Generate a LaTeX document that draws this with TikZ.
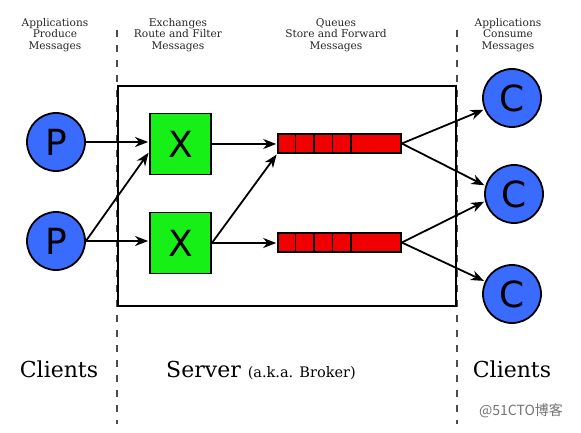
\documentclass[tikz,border=0pt]{standalone}
\usepackage{fontspec}
\setmainfont{DejaVu Serif}
\newfontfamily\lettersf{DejaVu Sans}
\newfontfamily\cjk{Noto Sans CJK SC}
\usetikzlibrary{arrows.meta,calc}
\definecolor{pblue}{HTML}{3A6BFF}
\definecolor{xgreen}{HTML}{16F016}
\definecolor{qred}{HTML}{F00000}
\tikzset{
  client/.style={circle,draw=black,line width=1.8pt,fill=pblue,minimum size=58pt,inner sep=0pt,
    font=\lettersf\fontsize{36}{36}\selectfont},
  xbox/.style={rectangle,draw=black,line width=1.8pt,fill=xgreen,minimum size=61pt,inner sep=0pt,
    font=\lettersf\fontsize{36}{36}\selectfont},
  queue/.style={rectangle,draw=black,line width=1.6pt,fill=qred,minimum width=123pt,minimum height=19pt,inner sep=0pt},
  cell/.style={black,line width=1.4pt},
  flow/.style={-{Stealth[length=13pt,width=10pt,inset=4pt]},line width=1.8pt,shorten >=1pt},
  sep/.style={line width=1.4pt,black!70,dash pattern=on 7pt off 8pt},
  toplabel/.style={align=center,text=black!85,font=\fontsize{10.6}{11.5}\selectfont},
  biglabel/.style={anchor=base,font=\fontsize{22}{26}\selectfont},
}
\begin{document}
\begin{tikzpicture}[x=1pt,y=-1pt]
\useasboundingbox (0,0) rectangle (581,433);
% separators
\draw[sep] (117,30) -- (117,424);
\draw[sep] (457,30) -- (457,424);
% server box
\node[draw=black,line width=1.8pt,minimum width=338pt,minimum height=220pt,inner sep=0pt] (server) at (287,196) {};
% top labels
\node[toplabel] (lp) at (55,35) {Applications\\Produce\\Messages};
\node[toplabel] (lx) at (178,35) {Exchanges\\Route and Filter\\Messages};
\node[toplabel] (lq) at (336,35) {Queues\\Store and Forward\\Messages};
\node[toplabel] (lc) at (508,35) {Applications\\Consume\\Messages};
% producers
\node[client] (P1) at (56,142) {P};
\node[client] (P2) at (56,241) {P};
% exchanges
\node[xbox] (X1) at (180.5,144) {X};
\node[xbox] (X2) at (180.5,243) {X};
% queues
\node[queue] (Q1) at (339.5,143.5) {};
\node[queue] (Q2) at (339.5,242.5) {};
\foreach \q in {Q1,Q2}{
  \foreach \cx in {295.5,314,332.5,351}{
    \draw[cell] (\q.north west -| \cx,0) -- (\q.south west -| \cx,0);
  }
}
% consumers
\node[client] (C1) at (512,98) {C};
\node[client] (C2) at (514,194) {C};
\node[client] (C3) at (512,294) {C};
% arrows
\draw[flow] (P1.east) -- (P1.east -| X1.west);
\draw[flow] (P2.east) -- ([yshift=-8pt]X1.west);
\draw[flow] (P2.east) -- (P2.east -| X2.west);
\draw[flow] (X1.east) -- (X1.east -| Q1.west);
\draw[flow] (X2.east) -- (Q1.south west);
\draw[flow] (X2.east) -- (X2.east -| Q2.west);
\draw[flow] (Q1.east) -- (C1);
\draw[flow] (Q1.east) -- (C2.164);
\draw[flow] (Q2.east) -- (C2.194);
\draw[flow] (Q2.east) -- (C3);
% bottom labels
\node[biglabel] (cl1) at (59,377) {Clients};
\node[biglabel] (srv) at (261,377) {Server {\fontsize{14.5}{17}\selectfont (a.k.a. Broker)}};
\node[biglabel] (cl2) at (512,377) {Clients};
\node[text=black!55,font=\cjk\fontsize{14}{16}\selectfont] (wm) at (521,411) {@51CTO博客};
\end{tikzpicture}
\end{document}
